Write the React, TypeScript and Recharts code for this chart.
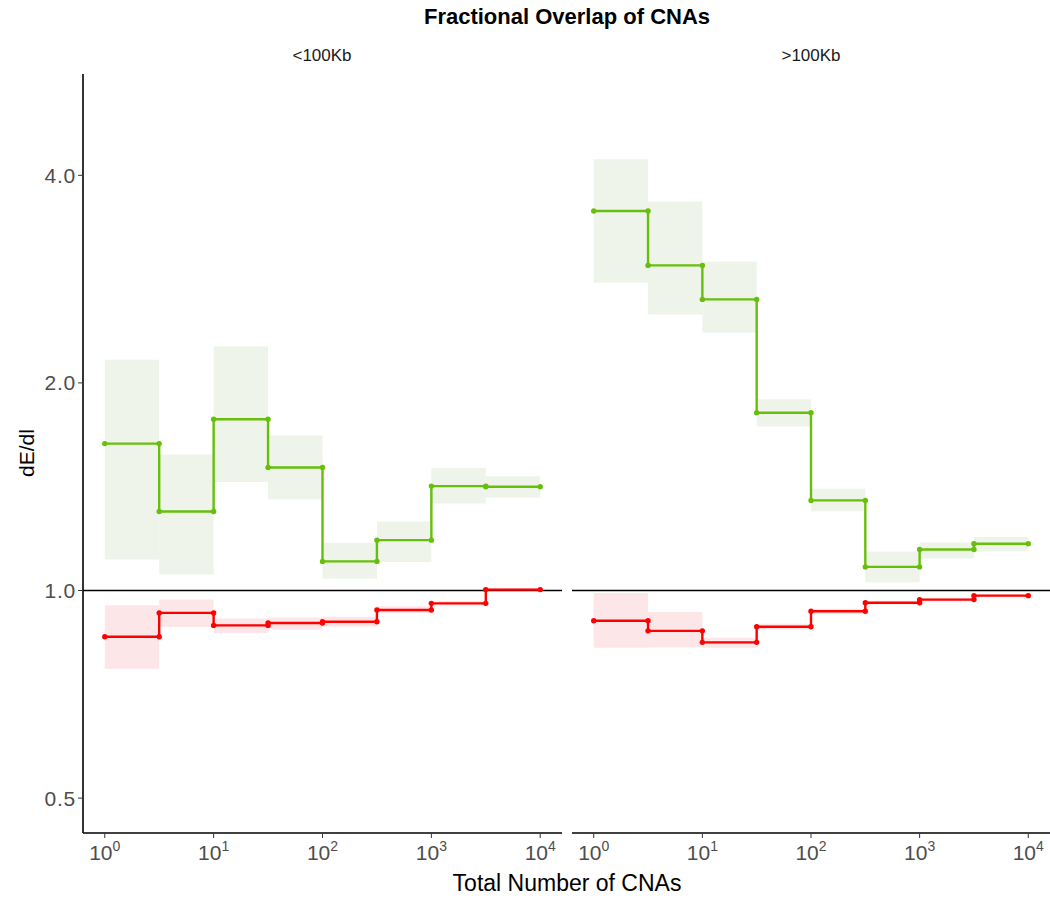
import * as React from "react";
import {
  ComposedChart,
  Line,
  XAxis,
  YAxis,
  ReferenceArea,
  ReferenceLine,
} from "recharts";

// bin edges (half-decade bins)
const binEdges = [1, 3.162, 10, 31.62, 100, 316.2, 1000, 3162, 10000];
const xTicks = [1, 10, 100, 1000, 10000];
const yTicks = [0.5, 1, 2, 4];

// <100Kb
const smallGain = [1.633, 1.302, 1.771, 1.508, 1.102, 1.183, 1.417, 1.414];
const smallGainLo = [1.109, 1.055, 1.436, 1.355, 1.04, 1.1, 1.337, 1.364];
const smallGainHi = [2.16, 1.575, 2.261, 1.678, 1.173, 1.259, 1.505, 1.464];
const smallLoss = [0.857, 0.928, 0.89, 0.897, 0.901, 0.937, 0.958, 1.003];
const smallLossLo = [0.77, 0.885, 0.868, 0.878, 0.886, 0.928, 0.952, 0.998];
const smallLossHi = [0.952, 0.97, 0.911, 0.914, 0.916, 0.949, 0.965, 1.009];

// >100Kb
const largeGain = [3.55, 2.961, 2.643, 1.81, 1.351, 1.082, 1.147, 1.169];
const largeGainLo = [2.795, 2.514, 2.365, 1.731, 1.303, 1.028, 1.113, 1.14];
const largeGainHi = [4.22, 3.664, 2.998, 1.893, 1.404, 1.138, 1.175, 1.196];
const largeLoss = [0.904, 0.874, 0.841, 0.886, 0.933, 0.96, 0.97, 0.983];
const largeLossLo = [0.826, 0.827, 0.826, 0.877, 0.925, 0.954, 0.965, 0.979];
const largeLossHi = [0.992, 0.931, 0.854, 0.895, 0.941, 0.966, 0.975, 0.987];

const GREEN = "#67BF0B";
const RED = "#FF0000";
const GREEN_BAND = "#EEF4EA";
const RED_BAND = "#FDE6E8";
const FONT = "'Liberation Sans', Arial, sans-serif";

const xDomain = [Math.pow(10, -0.2), Math.pow(10, 4.2)];
const yDomain = [0.445, 5.61];

const steps = (vals: number[]) =>
  vals.flatMap((v, i) => [
    { x: binEdges[i], v },
    { x: binEdges[i + 1], v },
  ]);

const PowerTick = (props: any) => {
  const { x, y, payload } = props;
  const exp = Math.round(Math.log10(payload.value));
  return (
    <text x={x} y={y} textAnchor="middle" fill="#4D4D4D" fontSize={21} fontFamily={FONT}>
      <tspan dy={20}>10</tspan>
      <tspan dy={-9} fontSize={14}>
        {exp}
      </tspan>
    </text>
  );
};

type PanelProps = {
  gain: number[];
  gainLo: number[];
  gainHi: number[];
  loss: number[];
  lossLo: number[];
  lossHi: number[];
  showY: boolean;
  width: number;
};

function Panel({ gain, gainLo, gainHi, loss, lossLo, lossHi, showY, width }: PanelProps) {
  return (
    <ComposedChart width={width} height={898} margin={{ top: 74, right: 0, left: 0, bottom: 0 }}>
      <XAxis
        dataKey="x"
        type="number"
        scale="log"
        domain={xDomain}
        allowDataOverflow
        ticks={xTicks}
        tick={<PowerTick />}
        tickSize={5}
        tickLine={{ stroke: "#333" }}
        axisLine={{ stroke: "#000", strokeWidth: 1.6 }}
        height={65}
        interval={0}
      />
      <YAxis
        type="number"
        scale="log"
        domain={yDomain}
        allowDataOverflow
        ticks={yTicks}
        hide={!showY}
        width={83}
        tickFormatter={(v: number) => v.toFixed(1)}
        tick={{ fill: "#4D4D4D", fontSize: 21, fontFamily: FONT, letterSpacing: 0.8 }}
        tickSize={5}
        tickLine={{ stroke: "#333" }}
        axisLine={{ stroke: "#000", strokeWidth: 1.6 }}
        interval={0}
      />
      {gain.map((_, i) => (
        <ReferenceArea
          key={"g" + i}
          x1={binEdges[i]}
          x2={binEdges[i + 1]}
          y1={gainLo[i]}
          y2={gainHi[i]}
          fill={GREEN_BAND}
          fillOpacity={1}
          stroke="none"
        />
      ))}
      {loss.map((_, i) => (
        <ReferenceArea
          key={"l" + i}
          x1={binEdges[i]}
          x2={binEdges[i + 1]}
          y1={lossLo[i]}
          y2={lossHi[i]}
          fill={RED_BAND}
          fillOpacity={1}
          stroke="none"
        />
      ))}
      <ReferenceLine y={1} stroke="#000" strokeWidth={1.6} />
      <Line
        data={steps(gain)}
        dataKey="v"
        type="linear"
        stroke={GREEN}
        strokeWidth={2.4}
        dot={{ r: 2.7, fill: GREEN, stroke: GREEN, strokeWidth: 0 }}
        isAnimationActive={false}
      />
      <Line
        data={steps(loss)}
        dataKey="v"
        type="linear"
        stroke={RED}
        strokeWidth={2.4}
        dot={{ r: 2.7, fill: RED, stroke: RED, strokeWidth: 0 }}
        isAnimationActive={false}
      />
    </ComposedChart>
  );
}

export default function App() {
  const label: React.CSSProperties = { position: "absolute", fontFamily: FONT, color: "#000", whiteSpace: "nowrap" };
  return (
    <div style={{ position: "absolute", left: 0, top: 0, width: 1050, height: 898, background: "#fff", overflow: "hidden" }}>
      <div style={{ position: "absolute", left: 0, top: 0 }}>
        <Panel gain={smallGain} gainLo={smallGainLo} gainHi={smallGainHi} loss={smallLoss} lossLo={smallLossLo} lossHi={smallLossHi} showY width={562} />
      </div>
      <div style={{ position: "absolute", left: 572, top: 0 }}>
        <Panel gain={largeGain} gainLo={largeGainLo} gainHi={largeGainHi} loss={largeLoss} lossLo={largeLossLo} lossHi={largeLossHi} showY={false} width={478} />
      </div>
      <div style={{ ...label, left: 567, top: 4, transform: "translateX(-50%)", fontSize: 22, fontWeight: "bold" }}>
        Fractional Overlap of CNAs
      </div>
      <div style={{ ...label, left: 322, top: 46, transform: "translateX(-50%)", fontSize: 17, color: "#1A1A1A" }}>
        &lt;100Kb
      </div>
      <div style={{ ...label, left: 811, top: 46, transform: "translateX(-50%)", fontSize: 17, color: "#1A1A1A" }}>
        &gt;100Kb
      </div>
      <div style={{ ...label, left: 567, top: 870, transform: "translateX(-50%)", fontSize: 23 }}>
        Total Number of CNAs
      </div>
      <div style={{ ...label, left: 27, top: 453, transform: "translate(-50%, -50%) rotate(-90deg)", fontSize: 21 }}>
        dE/dl
      </div>
    </div>
  );
}
